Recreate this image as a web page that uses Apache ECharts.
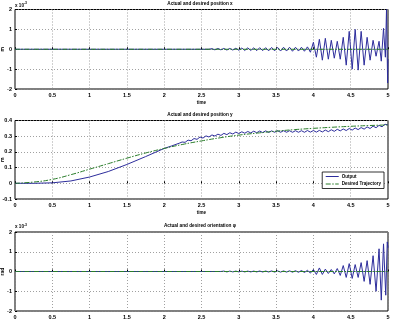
<!DOCTYPE html>
<html>
<head>
<meta charset="utf-8">
<script src="https://cdn.jsdelivr.net/npm/echarts@6/dist/echarts.min.js"></script>
<style>
html,body{margin:0;padding:0;background:#fff}
#chart{width:393px;height:321px}
</style>
</head>
<body>
<div id="chart"></div>
<script>
// values (x and phi in units of 1e-3)
const xOut = [
  [0,0],[2.6,0],[2.64,0.03],[2.68,-0.03],[2.72,0.04],[2.76,-0.03],[2.8,0.04],[2.84,-0.04],
  [2.88,0.04],[2.92,-0.04],[2.96,0.05],[3.0,-0.05],[3.04,0.06],[3.08,-0.06],[3.12,0.07],
  [3.16,-0.06],[3.2,0.07],[3.24,-0.07],[3.28,0.08],[3.32,-0.07],[3.36,0.08],[3.4,-0.08],
  [3.44,0.09],[3.48,-0.08],[3.52,0.09],[3.56,-0.09],[3.6,0.1],[3.64,-0.09],[3.68,0.1],
  [3.72,-0.1],[3.76,0.1],[3.8,-0.09],[3.84,0.1],[3.88,-0.1],[3.92,0.12],[3.96,-0.15],
  [4.0,0.35],[4.04,-0.4],[4.08,0.5],[4.12,-0.55],[4.16,0.55],[4.2,-0.5],[4.24,0.45],
  [4.28,-0.45],[4.32,0.4],[4.36,-0.5],[4.4,0.6],[4.44,-0.8],[4.48,0.9],[4.52,-1.0],
  [4.56,1.0],[4.6,-1.05],[4.64,0.9],[4.68,-0.8],[4.72,0.6],[4.76,-0.55],[4.8,0.45],
  [4.84,-0.35],[4.88,0.4],[4.91,-0.6],[4.94,1.05],[4.965,-0.4],[4.98,2.0],[4.995,-1.7],[5.0,-0.5]
];
const xDes = [[0,0],[5,0]];

const yOut = [
  [0,0],[0.25,0],[0.5,0.003],[0.75,0.015],[1.0,0.04],[1.25,0.075],[1.5,0.12],[1.75,0.17],
  [2.0,0.222],[2.1,0.238],[2.2,0.255],
  [2.24,0.263],[2.28,0.261],[2.32,0.275],[2.36,0.271],[2.4,0.285],[2.44,0.28],[2.48,0.295],
  [2.52,0.288],[2.56,0.302],[2.6,0.295],[2.64,0.308],[2.68,0.301],[2.72,0.313],[2.76,0.305],
  [2.8,0.318],[2.84,0.31],[2.88,0.322],[2.92,0.314],[2.96,0.326],[3.0,0.317],[3.04,0.328],
  [3.08,0.319],[3.12,0.33],[3.16,0.321],[3.2,0.332],[3.24,0.322],[3.28,0.333],[3.32,0.323],
  [3.36,0.334],[3.4,0.324],[3.44,0.334],[3.48,0.325],[3.52,0.335],[3.56,0.325],[3.6,0.335],
  [3.64,0.325],[3.68,0.335],[3.72,0.325],[3.76,0.335],[3.8,0.325],[3.84,0.335],[3.88,0.325],
  [3.92,0.336],[3.96,0.326],[4.0,0.336],[4.04,0.326],[4.08,0.337],[4.12,0.327],[4.16,0.339],
  [4.2,0.329],[4.24,0.341],[4.28,0.331],[4.32,0.344],[4.36,0.334],[4.4,0.346],[4.44,0.336],
  [4.48,0.349],[4.52,0.339],[4.56,0.352],[4.6,0.342],[4.64,0.355],[4.68,0.345],[4.72,0.359],
  [4.76,0.349],[4.8,0.364],[4.84,0.354],[4.88,0.369],[4.92,0.36],[4.96,0.376],[5.0,0.372]
];
const yDes = [
  [0,0],[0.25,0.008],[0.5,0.025],[0.75,0.055],[1.0,0.09],[1.25,0.125],[1.5,0.16],
  [1.75,0.193],[2.0,0.222],[2.25,0.248],[2.5,0.27],[2.75,0.29],[3.0,0.307],[3.25,0.32],
  [3.5,0.332],[3.75,0.342],[4.0,0.35],[4.25,0.357],[4.5,0.363],[4.75,0.368],[5.0,0.372]
];

const phiOut = [
  [0,0],[2.76,0],[2.8,0.02],[2.84,-0.02],[2.88,0.02],[2.92,-0.02],[2.96,0.02],[3.0,-0.02],
  [3.04,0.02],[3.08,-0.02],[3.12,0.02],[3.16,-0.02],[3.2,0.02],[3.24,-0.02],[3.28,0.025],
  [3.32,-0.025],[3.36,0.025],[3.4,-0.025],[3.44,0.03],[3.48,-0.03],[3.52,0.03],[3.56,-0.03],
  [3.6,0.03],[3.64,-0.03],[3.68,0.035],[3.72,-0.035],[3.76,0.04],[3.8,-0.04],[3.84,0.05],
  [3.88,-0.05],[3.92,0.06],[3.96,-0.08],[4.0,0.1],[4.04,-0.15],[4.08,0.18],[4.12,-0.15],
  [4.16,0.12],[4.2,-0.1],[4.24,0.1],[4.28,-0.12],[4.32,0.15],[4.36,-0.2],[4.4,0.3],
  [4.44,-0.3],[4.48,0.4],[4.52,-0.35],[4.56,0.35],[4.6,-0.3],[4.64,0.45],[4.68,-0.5],
  [4.72,0.55],[4.76,-0.65],[4.8,0.8],[4.84,-1.0],[4.88,1.15],[4.91,-1.45],[4.94,1.4],
  [4.97,-1.2],[4.99,1.5],[5.0,1.2]
];
const phiDes = [[0,0],[5,0]];

const yTicks1 = [-2, -1, 0, 1, 2];
const yTicks2 = [-0.1, 0, 0.1, 0.2, 0.3, 0.4];

const BLUE = '#2d2d9c';
const GREEN = '#2a7d2a';
const FONT = 'Liberation Sans';

const chart = echarts.init(document.getElementById('chart'));

function xAx(i, name) {
  return {
    type: 'value', gridIndex: i, min: 0, max: 5, interval: 0.5,
    name: name, nameLocation: 'middle', nameGap: 11, nameMoveOverlap: false,
    nameTextStyle: { fontSize: 4.5, fontFamily: FONT, fontWeight: 'bold', color: '#000' },
    axisLine: { show: false },
    axisTick: { inside: true, length: 2, lineStyle: { color: '#000' } },
    axisLabel: { fontSize: 5.5, fontFamily: FONT, fontWeight: 'bold', color: '#000', margin: 3,
      formatter: v => String(v) },
    splitLine: { show: true, lineStyle: { color: '#888', type: [1, 2], width: 0.8 } }
  };
}
function yAx(i, ticks, name) {
  return {
    type: 'value', gridIndex: i, min: ticks[0], max: ticks[ticks.length - 1],
    interval: +(ticks[1] - ticks[0]).toFixed(3),
    name: name, nameLocation: 'middle', nameGap: 10, nameRotate: 90, nameMoveOverlap: false,
    nameTextStyle: { fontSize: 5, fontFamily: FONT, fontWeight: 'bold', color: '#000' },
    axisLine: { show: false },
    axisTick: { inside: true, length: 2, lineStyle: { color: '#000' } },
    axisLabel: { fontSize: 5.5, fontFamily: FONT, fontWeight: 'bold', color: '#000', margin: 3,
      formatter: v => String(+v.toFixed(3)) },
    splitLine: { show: true, lineStyle: { color: '#888', type: [1, 2], width: 0.8 } }
  };
}
function outLine(name, i, data) {
  return { name: name, type: 'line', xAxisIndex: i, yAxisIndex: i, data: data,
    showSymbol: false, symbol: 'none', animation: false,
    lineStyle: { color: BLUE, width: 1 }, itemStyle: { color: BLUE } };
}
function desLine(name, i, data) {
  return { name: name, type: 'line', xAxisIndex: i, yAxisIndex: i, data: data,
    showSymbol: false, symbol: 'none', animation: false, smooth: true,
    lineStyle: { color: GREEN, width: 1, type: [5, 1.5, 1.5, 1.5] }, itemStyle: { color: GREEN } };
}
function ttl(text, top) {
  return { text: text, left: 200, top: top, textAlign: 'center', padding: 0,
    textStyle: { fontSize: 4.7, fontFamily: FONT, fontWeight: 'bold', color: '#000' } };
}
function expo(top) {
  return { text: 'x 10{s|-3}', left: 15, top: top, padding: 0,
    textStyle: { fontSize: 4.6, fontFamily: FONT, fontWeight: 'bold', color: '#000',
      rich: { s: { fontSize: 3.5, fontFamily: FONT, fontWeight: 'bold', color: '#000', padding: [0, 0, 4, 0] } } } };
}
function grd(top, height) {
  return { left: 15, right: 5, top: top, height: height, outerBoundsMode: 'none', containLabel: false,
    show: true, borderColor: '#000', borderWidth: 1, backgroundColor: '#fff' };
}

chart.setOption({
  backgroundColor: '#fff',
  animation: false,
  title: [
    ttl('Actual and desired position x', 1.5),
    ttl('Actual and desired position y', 112.5),
    ttl('Actual and desired orientation \u03c6', 223),
    expo(1.5), expo(223)
  ],
  legend: {
    data: ['Output', 'Desired Trajectory'],
    orient: 'vertical', right: 9, top: 172,
    backgroundColor: '#fff', borderColor: '#000', borderWidth: 0.8,
    padding: [2, 3, 2, 3], itemGap: 2.5, itemWidth: 13, itemHeight: 6,
    itemStyle: { opacity: 0 },
    lineStyle: { width: 1 },
    textStyle: { fontSize: 4.5, fontFamily: FONT, fontWeight: 'bold', color: '#000', padding: [0, 0, 0, -2] }
  },
  grid: [grd(9.5, 79.5), grd(120.5, 78.5), grd(232, 79)],
  xAxis: [xAx(0, 'time'), xAx(1, 'time'), xAx(2, 'time')],
  yAxis: [yAx(0, yTicks1, 'm'), yAx(1, yTicks2, 'm'), yAx(2, yTicks1, 'rad')],
  series: [
    outLine('x out', 0, xOut), desLine('x des', 0, xDes),
    outLine('Output', 1, yOut), desLine('Desired Trajectory', 1, yDes),
    outLine('phi out', 2, phiOut), desLine('phi des', 2, phiDes)
  ]
});
</script>
</body>
</html>
